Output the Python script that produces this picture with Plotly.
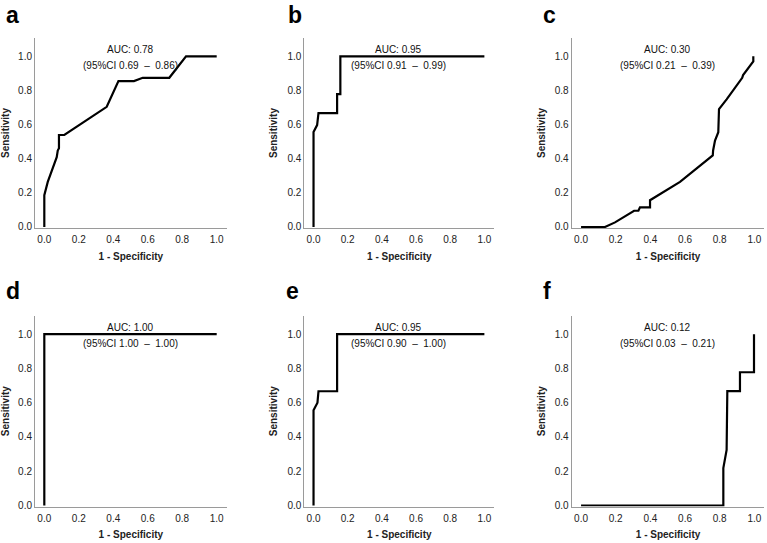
import plotly.graph_objects as go

W, H = 767, 543

# ---- data ----
panel_letters = ["a", "b", "c", "d", "e", "f"]
auc_text = ["AUC: 0.78", "AUC: 0.95", "AUC: 0.30", "AUC: 1.00", "AUC: 0.95", "AUC: 0.12"]
ci_text = ["(95%CI 0.69  \u2013  0.86)", "(95%CI 0.91  \u2013  0.99)", "(95%CI 0.21  \u2013  0.39)",
           "(95%CI 1.00  \u2013  1.00)", "(95%CI 0.90  \u2013  1.00)", "(95%CI 0.03  \u2013  0.21)"]

fpr_a = [0, 0, 0.02, 0.072, 0.078, 0.085, 0.085, 0.116, 0.362, 0.43, 0.52, 0.571, 0.725, 0.822, 1.0]
tpr_a = [0, 0.186, 0.264, 0.409, 0.448, 0.461, 0.539, 0.539, 0.704, 0.855, 0.855, 0.874, 0.874, 1.0, 1.0]

fpr_b = [0, 0, 0.021, 0.029, 0.138, 0.138, 0.157, 0.157, 1.0]
tpr_b = [0, 0.556, 0.597, 0.667, 0.667, 0.778, 0.778, 1.0, 1.0]

fpr_c = [0, 0.138, 0.196, 0.292, 0.306, 0.331, 0.34, 0.398, 0.398, 0.571, 0.744, 0.76, 0.762,
         0.773, 0.792, 0.796, 0.84, 0.93, 0.935, 0.994, 0.994]
tpr_c = [0, 0, 0.027, 0.089, 0.095, 0.095, 0.115, 0.115, 0.157, 0.264, 0.403, 0.419, 0.448,
         0.506, 0.555, 0.69, 0.748, 0.874, 0.89, 0.97, 1.0]

fpr_d = [0, 0, 1.0]
tpr_d = [0, 1.0, 1.0]

fpr_e = [0, 0, 0.023, 0.029, 0.138, 0.138, 1.0]
tpr_e = [0, 0.556, 0.6, 0.667, 0.667, 1.0, 1.0]

fpr_f = [0, 0.821, 0.821, 0.84, 0.844, 0.917, 0.917, 0.998, 0.998]
tpr_f = [0, 0, 0.218, 0.324, 0.668, 0.668, 0.778, 0.778, 1.0]

tick_vals = [0, 0.2, 0.4, 0.6, 0.8, 1.0]
tick_text = ["0.0", "0.2", "0.4", "0.6", "0.8", "1.0"]

curves = [(fpr_a, tpr_a), (fpr_b, tpr_b), (fpr_c, tpr_c),
          (fpr_d, tpr_d), (fpr_e, tpr_e), (fpr_f, tpr_f)]

# ---- layout geometry (pixels) ----
col_px = [(35, 226.7), (304.3, 494.3), (571.7, 764.4)]
row_px = [(38.3, 229.7), (318.2, 510.3)]
letter_px = [(4, 15), (286, 15), (541, 15), (4, 293), (284, 293), (541, 293)]

FONT = "Liberation Sans, Arial, Helvetica, sans-serif"

fig = go.Figure()
layout = dict(
    width=W, height=H,
    margin=dict(l=0, r=0, t=0, b=0),
    paper_bgcolor="white", plot_bgcolor="white",
    showlegend=False,
    font=dict(family=FONT, size=10, color="#222"),
)
annotations = []

for i, (fx, ty) in enumerate(curves):
    r, c = divmod(i, 3)
    n = "" if i == 0 else str(i + 1)
    xa, ya = "x" + n, "y" + n
    fig.add_trace(go.Scatter(x=fx, y=ty, mode="lines", xaxis=xa, yaxis=ya,
                             line=dict(color="black", width=2.2), hoverinfo="skip"))
    x0, x1 = col_px[c]
    y0, y1 = row_px[r]
    common = dict(showgrid=False, zeroline=False, showline=True, linecolor="#9a9a9a",
                  linewidth=1, ticks="", tickvals=tick_vals, ticktext=tick_text,
                  tickfont=dict(size=10, color="#222", family=FONT), fixedrange=True)
    layout["xaxis" + n] = dict(common, domain=[x0 / W, x1 / W], range=[-0.054, 1.058],
                               anchor=ya, ticklabelstandoff=2,
                               title=dict(text="<b>1 - Specificity</b>", standoff=8,
                                          font=dict(size=10, color="#222", family=FONT)))
    layout["yaxis" + n] = dict(common, domain=[1 - y1 / H, 1 - y0 / H], range=[-0.006, 1.107],
                               anchor=xa,
                               title=dict(text="<b>Sensitivity</b>", standoff=7,
                                          font=dict(size=10, color="#222", family=FONT)))
    annotations.append(dict(xref=xa, yref=ya, x=0.5, y=1.04, text=auc_text[i], showarrow=False,
                            font=dict(size=10, color="#111", family=FONT)))
    annotations.append(dict(xref=xa, yref=ya, x=0.5, y=0.945, text=ci_text[i], showarrow=False,
                            font=dict(size=10, color="#111", family=FONT)))
    lx, ly = letter_px[i]
    annotations.append(dict(xref="paper", yref="paper", x=lx / W, y=1 - ly / H,
                            xanchor="left", yanchor="middle", text="<b>%s</b>" % panel_letters[i],
                            showarrow=False, font=dict(size=23, color="black", family=FONT)))

layout["annotations"] = annotations
fig.update_layout(**layout)
fig.write_html("out.html")
